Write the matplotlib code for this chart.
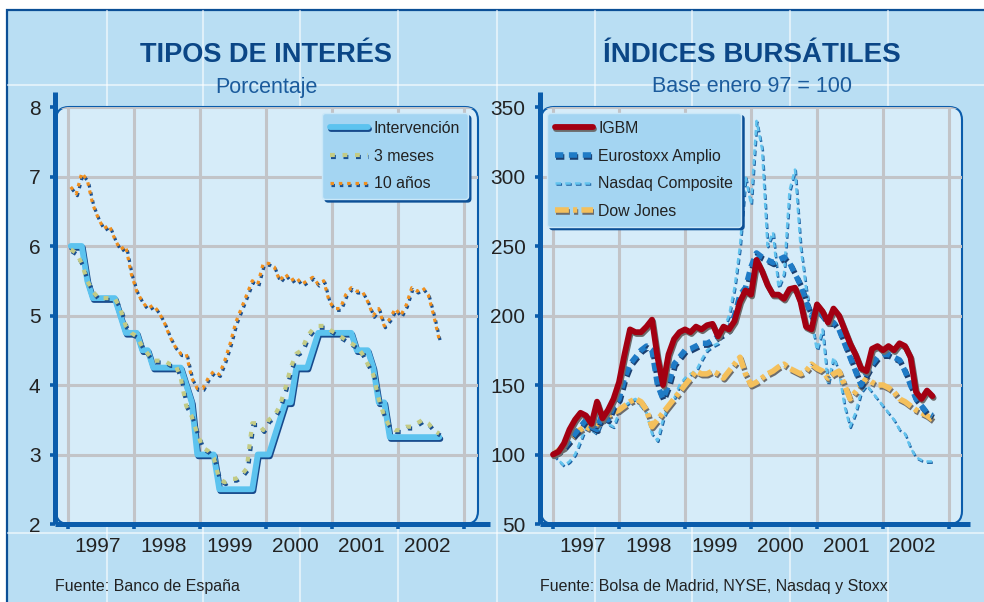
import numpy as np
import matplotlib
matplotlib.use('Agg')
import matplotlib.pyplot as plt
import matplotlib.patheffects as pe
from matplotlib.patches import FancyBboxPatch, Rectangle
from matplotlib.lines import Line2D
from matplotlib.transforms import IdentityTransform

plt.rcParams['font.family'] = ['Liberation Sans', 'DejaVu Sans']
plt.rcParams['lines.scale_dashes'] = False

# ---- data: interest rates (monthly, Jan 1997 - Aug 2002) ----
intervencion = [6.0, 6.0, 6.0, 5.5, 5.25, 5.25, 5.25, 5.25, 5.25, 5.0, 4.75, 4.75,
                4.75, 4.5, 4.5, 4.25, 4.25, 4.25, 4.25, 4.25, 4.25, 4.0, 3.75, 3.0,
                3.0, 3.0, 3.0, 2.5, 2.5, 2.5, 2.5, 2.5, 2.5, 2.5, 3.0, 3.0,
                3.0, 3.25, 3.5, 3.75, 3.75, 4.25, 4.25, 4.25, 4.5, 4.75, 4.75, 4.75,
                4.75, 4.75, 4.75, 4.75, 4.5, 4.5, 4.5, 4.25, 3.75, 3.75, 3.25, 3.25,
                3.25, 3.25, 3.25, 3.25, 3.25, 3.25, 3.25, 3.25]
tres_meses = [5.95, 5.9, 5.75, 5.5, 5.35, 5.25, 5.25, 5.25, 5.25, 5.1, 4.85, 4.75,
              4.7, 4.55, 4.45, 4.35, 4.35, 4.35, 4.3, 4.3, 4.1, 3.7, 3.55, 3.3,
              3.1, 3.05, 2.95, 2.65, 2.6, 2.65, 2.65, 2.7, 2.8, 3.45, 3.45, 3.35,
              3.5, 3.55, 3.7, 3.95, 4.25, 4.45, 4.5, 4.7, 4.8, 4.85, 4.85, 4.8,
              4.75, 4.7, 4.65, 4.6, 4.55, 4.45, 4.3, 4.15, 3.8, 3.55, 3.4, 3.35,
              3.35, 3.4, 3.4, 3.45, 3.5, 3.45, 3.35, 3.3]
diez_anos = [6.85, 6.75, 7.05, 6.95, 6.6, 6.4, 6.25, 6.3, 6.1, 5.95, 6.0, 5.6,
             5.35, 5.2, 5.1, 5.15, 5.05, 4.9, 4.7, 4.55, 4.45, 4.45, 4.1, 3.95,
             3.95, 4.1, 4.2, 4.15, 4.35, 4.6, 4.9, 5.1, 5.3, 5.5, 5.45, 5.75,
             5.75, 5.7, 5.5, 5.6, 5.5, 5.55, 5.45, 5.5, 5.55, 5.45, 5.5, 5.2,
             5.1, 5.1, 5.3, 5.4, 5.35, 5.35, 5.2, 5.0, 5.1, 4.85, 4.95, 5.1,
             5.0, 5.15, 5.4, 5.35, 5.4, 5.3, 5.0, 4.65]

# ---- data: stock indices, base Jan 97 = 100 (monthly, Jan 1997 - Oct 2002) ----
igbm = [100, 102, 108, 118, 125, 130, 128, 122, 138, 126, 132, 140,
        152, 172, 190, 188, 188, 192, 197, 170, 150, 172, 183, 188,
        190, 188, 192, 190, 193, 194, 185, 192, 190, 196, 210, 218,
        215, 240, 232, 222, 215, 215, 212, 219, 220, 210, 192, 190,
        208, 203, 195, 205, 200, 190, 180, 172, 162, 160, 176, 178,
        175, 178, 175, 180, 178, 170, 145, 140, 146, 142]
eurostoxx = [100, 102, 105, 110, 115, 120, 125, 120, 118, 130, 125, 135,
             140, 155, 165, 170, 175, 178, 175, 150, 140, 150, 165, 170,
             175, 176, 178, 180, 180, 182, 185, 187, 190, 200, 215, 220,
             235, 245, 242, 240, 238, 240, 242, 238, 230, 222, 210, 200,
             205, 200, 195, 195, 190, 180, 170, 160, 150, 158, 165, 170,
             172, 172, 170, 168, 160, 150, 140, 135, 130, 128]
nasdaq = [100, 96, 92, 95, 100, 110, 120, 118, 115, 125, 122, 120,
          130, 135, 138, 140, 135, 130, 115, 110, 125, 135, 140, 150,
          155, 158, 160, 168, 175, 178, 180, 190, 200, 220, 250, 300,
          280, 340, 320, 250, 260, 220, 230, 290, 305, 250, 220, 195,
          175, 190, 150, 170, 160, 135, 120, 130, 145, 150, 145, 140,
          135, 130, 125, 118, 115, 105, 98, 96, 95, 95]
dow_jones = [100, 103, 105, 110, 115, 118, 120, 118, 122, 125, 128, 130,
             132, 135, 138, 140, 138, 132, 120, 125, 130, 135, 140, 145,
             150, 155, 160, 158, 158, 160, 158, 155, 160, 165, 170, 158,
             150, 152, 155, 158, 160, 163, 165, 162, 160, 158, 160, 165,
             162, 160, 155, 158, 160, 150, 140, 145, 150, 155, 152, 150,
             150, 148, 145, 140, 138, 135, 132, 130, 128, 125]

years = [1997, 1998, 1999, 2000, 2001, 2002]

t_left = 1997 + (np.arange(len(intervencion)) + 0.5) / 12
t_right = 1997 + np.arange(len(igbm)) / 12

W, H = 984, 602
fig = plt.figure(figsize=(W / 100, H / 100), dpi=100)
fig.patch.set_facecolor('white')
ident = IdentityTransform()

BG = '#b9def3'
PANEL = '#d6ecf9'
DARK = '#0b4f96'
SPINE = '#0a5cab'
GRID = '#c2c4c8'
TITLE = '#0b4686'
TXT = '#222222'

# outer frame + faint background grid
fig.add_artist(Rectangle((7, -20), 1100, H - 10 + 20, transform=ident,
                         facecolor=BG, edgecolor=DARK, lw=1.6, zorder=-5))
for xv in [107, 203, 300, 398, 497, 595, 692, 790, 888]:
    fig.add_artist(Line2D([xv, xv], [0, H - 11], transform=ident,
                          color='white', lw=1.5, alpha=0.55, zorder=-4))
for yv in [85, 533]:
    fig.add_artist(Line2D([8, W], [H - yv, H - yv], transform=ident,
                          color='white', lw=1.5, alpha=0.55, zorder=-4))


def make_panel(x0, x1, y0, y1):
    p = FancyBboxPatch((x0, H - y1), x1 - x0, y1 - y0,
                       boxstyle='round,pad=0,rounding_size=13',
                       transform=ident, facecolor=PANEL, edgecolor=SPINE,
                       lw=1.5, zorder=-3)
    fig.add_artist(p)
    return p


def shadow(col, off=(0.8, -1.3)):
    return [pe.SimpleLineShadow(offset=off, shadow_color=col, alpha=1.0),
            pe.Normal()]


def setup_axes(ax, panel, xlim, ylim, yticks):
    ax.set_facecolor('none')
    ax.set_xlim(*xlim)
    ax.set_ylim(*ylim)
    for s in ['top', 'right']:
        ax.spines[s].set_visible(False)
    for s in ['left', 'bottom']:
        ax.spines[s].set_color(SPINE)
        ax.spines[s].set_linewidth(3.6)
        ax.spines[s].set_capstyle('butt')
    ax.set_xticks(np.arange(1997, 2004))
    ax.set_xticklabels([])
    ax.set_xticks([y + 0.45 for y in years], minor=True)
    ax.set_xticklabels([str(y) for y in years], minor=True)
    ax.set_yticks(yticks)
    ax.tick_params(axis='both', which='major', length=3.5, width=2.6,
                   color=SPINE, labelsize=15, labelcolor=TXT, pad=7)
    ax.tick_params(axis='x', which='minor', length=0, labelsize=15,
                   labelcolor=TXT, pad=9)
    ax.grid(True, which='major', color=GRID, lw=2.2)
    for gl in ax.get_xgridlines() + ax.get_ygridlines():
        gl.set_clip_path(panel)
    ax.set_axisbelow(True)


def make_legend(ax, handles, loc, anchor):
    leg = ax.legend(handles=handles, loc=loc, bbox_to_anchor=anchor,
                    bbox_transform=fig.transFigure, borderaxespad=0,
                    fontsize=11.4, frameon=True, fancybox=True, framealpha=1,
                    facecolor='#a4d5f2', edgecolor='#c9e7f8',
                    shadow={'color': DARK, 'alpha': 1.0},
                    handlelength=2.4, labelspacing=0.8, handletextpad=0.35,
                    borderpad=0.5)
    for t in leg.get_texts():
        t.set_color(TXT)
    return leg


# ---------------- left chart ----------------
panel1 = make_panel(56, 478, 107, 524)
ax1 = fig.add_axes([55 / W, 1 - 524 / H, (490 - 55) / W, (524 - 92) / H])
setup_axes(ax1, panel1, (1996.803, 2003.394), (2, 8.216), np.arange(2, 9))

l_int, = ax1.plot(t_left, intervencion, color='#5cc3ef', lw=4.2,
                  solid_joinstyle='round', solid_capstyle='round',
                  label='Intervención', zorder=3)
l_int.set_path_effects(shadow('#174a8c'))
l_3m, = ax1.plot(t_left, tres_meses, color='#c3cb85', lw=3.0,
                 dashes=(3.5, 5.5), label='3 meses', zorder=4)
l_3m.set_path_effects(shadow('#1a4f8f'))
l_10, = ax1.plot(t_left, diez_anos, color='#f0901f', lw=2.3,
                 dashes=(2.5, 3.5), label='10 años', zorder=4)
l_10.set_path_effects(shadow('#1a4f8f'))

make_legend(ax1, [l_int, l_3m, l_10], 'upper right', (468 / W, 1 - 113 / H))

fig.text(266 / W, 1 - 55 / H, 'TIPOS DE INTERÉS', ha='center', va='center',
         fontsize=19.5, fontweight='bold', color=TITLE)
fig.text(266 / W, 1 - 87 / H, 'Porcentaje', ha='center', va='center',
         fontsize=15.5, color='#1b5b9c')
fig.text(55 / W, 1 - 586 / H, 'Fuente: Banco de España', ha='left',
         va='center', fontsize=11.5, color=TXT)

# ---------------- right chart ----------------
panel2 = make_panel(541, 962, 107, 524)
ax2 = fig.add_axes([540 / W, 1 - 524 / H, (970 - 540) / W, (524 - 92) / H])
setup_axes(ax2, panel2, (1996.803, 2003.318), (50, 360.8),
           np.arange(50, 351, 50))

l_nas, = ax2.plot(t_right, nasdaq, color='#62c3ee', lw=1.8,
                  dashes=(4, 3), label='Nasdaq Composite', zorder=2)
l_nas.set_path_effects(shadow('#1d62a3', (0.6, -0.9)))
l_dow, = ax2.plot(t_right, dow_jones, color='#f4c05c', lw=4.0,
                  dashes=(10, 3, 3, 3), label='Dow Jones', zorder=3)
l_dow.set_path_effects(shadow('#6d6d6d'))
l_eu, = ax2.plot(t_right, eurostoxx, color='#1f7bc6', lw=4.0,
                 dashes=(6, 4), label='Eurostoxx Amplio', zorder=4)
l_eu.set_path_effects(shadow('#1b3f70'))
l_ig, = ax2.plot(t_right, igbm, color='#a30012', lw=4.2,
                 solid_joinstyle='round', solid_capstyle='round',
                 label='IGBM', zorder=5)
l_ig.set_path_effects(shadow('#6b6b6b'))

make_legend(ax2, [l_ig, l_eu, l_nas, l_dow], 'upper left',
            (547 / W, 1 - 113 / H))

fig.text(752 / W, 1 - 55 / H, 'ÍNDICES BURSÁTILES', ha='center', va='center',
         fontsize=20, fontweight='bold', color=TITLE)
fig.text(752 / W, 1 - 87 / H, 'Base enero 97 = 100', ha='center', va='center',
         fontsize=15.5, color='#1b5b9c')
fig.text(540 / W, 1 - 586 / H, 'Fuente: Bolsa de Madrid, NYSE, Nasdaq y Stoxx',
         ha='left', va='center', fontsize=11.5, color=TXT)

fig.savefig('out.png', dpi=100)
